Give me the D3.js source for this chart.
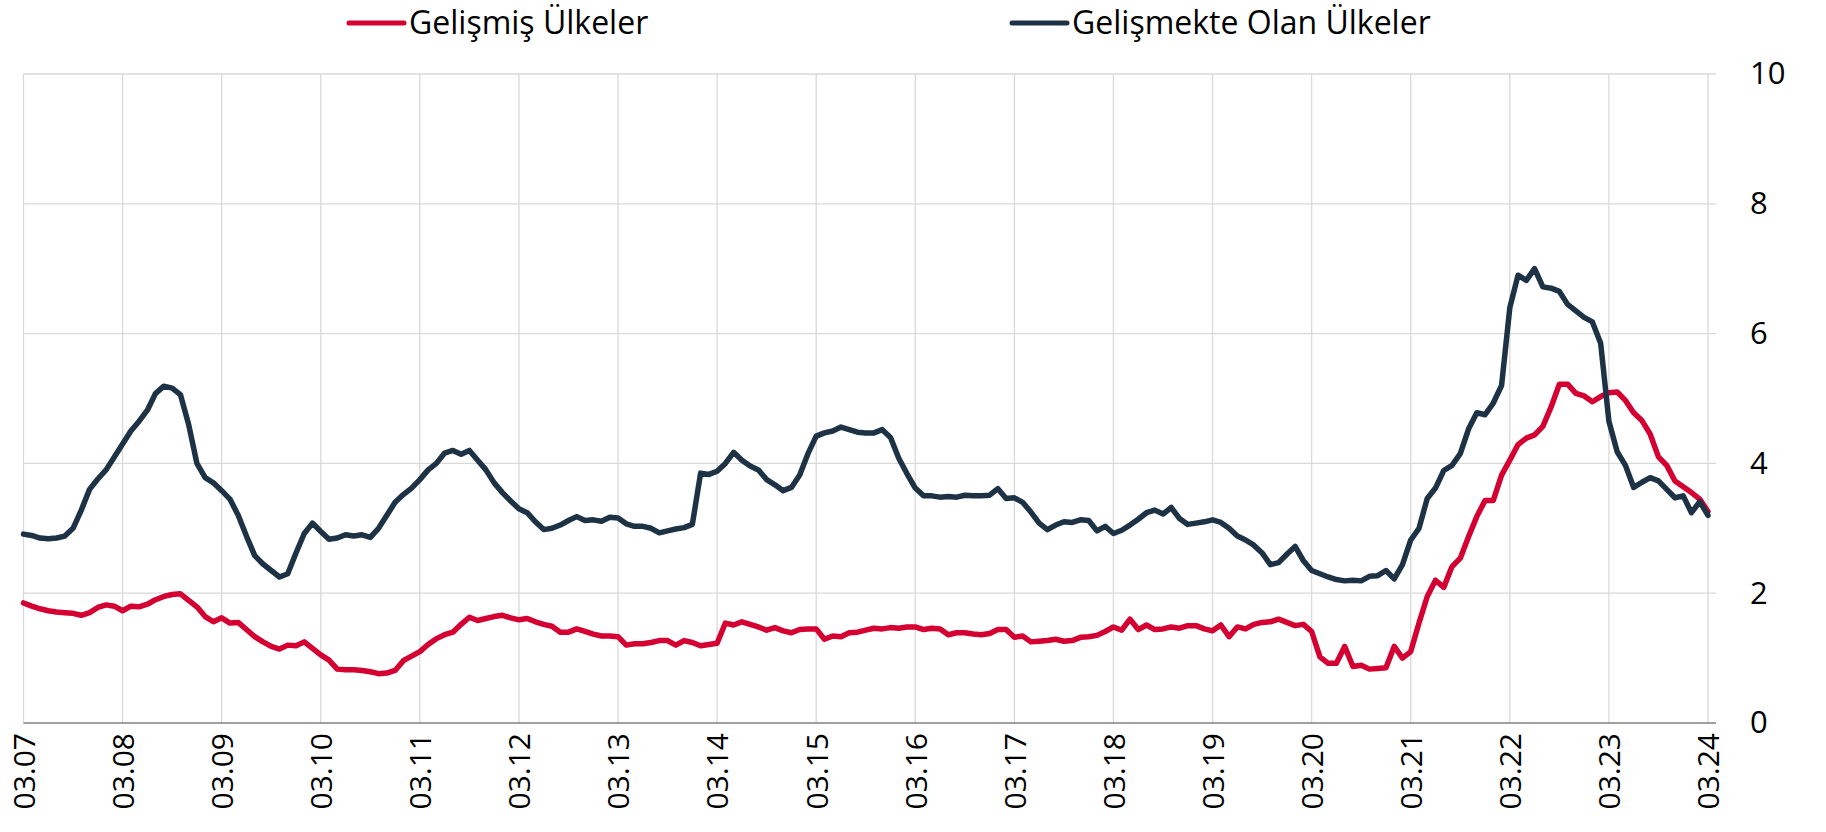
<!DOCTYPE html>
<html><head><meta charset="utf-8">
<script src="https://cdn.jsdelivr.net/npm/d3@7"></script>
<style>body{margin:0;background:#fff;} svg text{font-family:"Open Sans",sans-serif;fill:#000;}</style>
</head><body><svg id="c" width="1826" height="832"></svg>
<script>
const seriesNames = ["Gelişmiş Ülkeler", "Gelişmekte Olan Ülkeler"];
const seriesColors = ["#D50032", "#1E3246"];
const developed = [
1.85,1.80,1.76,1.73,1.71,1.70,1.69,1.66,1.70,1.78,1.82,1.80,
1.73,1.80,1.79,1.83,1.90,1.95,1.98,1.99,1.89,1.79,1.64,1.56,
1.62,1.54,1.55,1.44,1.33,1.25,1.18,1.14,1.20,1.19,1.25,1.15,
1.05,0.97,0.83,0.82,0.82,0.81,0.79,0.76,0.77,0.81,0.96,1.03,
1.10,1.21,1.30,1.36,1.40,1.52,1.63,1.58,1.61,1.64,1.66,1.62,
1.59,1.61,1.56,1.52,1.49,1.40,1.40,1.45,1.41,1.37,1.34,1.34,
1.33,1.20,1.22,1.22,1.24,1.27,1.27,1.20,1.27,1.24,1.19,1.21,
1.23,1.54,1.51,1.56,1.52,1.48,1.43,1.47,1.42,1.39,1.44,1.45,
1.45,1.29,1.34,1.33,1.39,1.40,1.43,1.46,1.45,1.47,1.46,1.48,
1.48,1.44,1.46,1.45,1.36,1.39,1.39,1.37,1.36,1.38,1.44,1.44,
1.32,1.34,1.25,1.26,1.27,1.29,1.26,1.27,1.32,1.33,1.35,1.41,
1.48,1.43,1.60,1.44,1.51,1.44,1.45,1.48,1.46,1.50,1.50,1.45,
1.42,1.51,1.33,1.48,1.45,1.52,1.55,1.56,1.60,1.55,1.50,1.52,
1.41,1.02,0.92,0.92,1.18,0.87,0.89,0.83,0.84,0.85,1.18,1.00,
1.10,1.54,1.95,2.20,2.09,2.41,2.54,2.87,3.18,3.43,3.43,3.82,
4.05,4.29,4.39,4.44,4.57,4.87,5.22,5.22,5.08,5.04,4.95,5.03,
5.09,5.10,4.97,4.78,4.66,4.45,4.10,3.97,3.73,3.64,3.55,3.45,
3.26
];
const developing = [
2.91,2.89,2.85,2.84,2.85,2.88,3.00,3.28,3.60,3.76,3.90,4.10,
4.30,4.50,4.65,4.82,5.08,5.19,5.16,5.06,4.60,4.00,3.78,3.70,
3.58,3.45,3.20,2.88,2.58,2.45,2.35,2.25,2.30,2.62,2.92,3.08,
2.95,2.83,2.85,2.90,2.88,2.90,2.86,3.00,3.20,3.40,3.52,3.62,
3.75,3.90,4.00,4.16,4.20,4.14,4.20,4.05,3.90,3.70,3.55,3.42,
3.30,3.24,3.10,2.98,3.00,3.05,3.12,3.18,3.12,3.13,3.11,3.17,
3.16,3.07,3.03,3.03,3.00,2.93,2.96,2.99,3.01,3.06,3.85,3.83,
3.88,4.00,4.17,4.05,3.96,3.90,3.75,3.67,3.58,3.63,3.82,4.15,
4.42,4.47,4.50,4.56,4.52,4.48,4.47,4.47,4.52,4.40,4.08,3.84,
3.62,3.50,3.50,3.48,3.49,3.48,3.51,3.50,3.50,3.51,3.61,3.46,
3.47,3.40,3.25,3.08,2.98,3.05,3.10,3.09,3.13,3.12,2.96,3.03,
2.92,2.97,3.05,3.14,3.24,3.28,3.22,3.32,3.15,3.06,3.08,3.10,
3.13,3.09,3.00,2.88,2.82,2.74,2.62,2.44,2.47,2.60,2.72,2.50,
2.35,2.30,2.25,2.21,2.19,2.20,2.19,2.26,2.27,2.35,2.22,2.44,
2.82,3.00,3.46,3.62,3.89,3.97,4.15,4.53,4.78,4.75,4.93,5.20,
6.40,6.90,6.82,7.00,6.72,6.70,6.65,6.45,6.35,6.25,6.18,5.85,
4.65,4.18,3.97,3.63,3.71,3.78,3.73,3.60,3.47,3.50,3.24,3.41,
3.20
];
const tickLabels = ["03.07","03.08","03.09","03.10","03.11","03.12","03.13","03.14","03.15",
  "03.16","03.17","03.18","03.19","03.20","03.21","03.22","03.23","03.24"];
const yTicks = [0, 2, 4, 6, 8, 10];

// monthly categories MM.YY starting March 2007
const categories = d3.range(developed.length).map(i => {
  const m = (2 + i) % 12 + 1, yr = 7 + Math.floor((2 + i) / 12);
  return String(m).padStart(2, "0") + "." + String(yr).padStart(2, "0");
});

const svg = d3.select("#c");
const x = d3.scalePoint().domain(categories).range([23.5, 1708]);
const y = d3.scaleLinear().domain([0, 10]).range([723, 74]);
const gridRight = 1716;

// horizontal gridlines
svg.append("g").selectAll("line").data(yTicks.filter(d => d > 0)).join("line")
  .attr("x1", 23.5).attr("x2", gridRight)
  .attr("y1", d => y(d)).attr("y2", d => y(d))
  .attr("stroke", "#d9d9d9").attr("stroke-width", 1.3);
// vertical gridlines
svg.append("g").selectAll("line").data(tickLabels).join("line")
  .attr("x1", d => x(d)).attr("x2", d => x(d))
  .attr("y1", y(10)).attr("y2", y(0))
  .attr("stroke", "#d9d9d9").attr("stroke-width", 1.3);
// baseline
svg.append("line").attr("x1", 23.5).attr("x2", gridRight)
  .attr("y1", y(0)).attr("y2", y(0)).attr("stroke", "#808080").attr("stroke-width", 1.5);

// right y axis labels
const ya = svg.append("g").attr("transform", "translate(1750,0)")
  .call(d3.axisRight(y).tickValues(yTicks).tickSize(0).tickPadding(0));
ya.select(".domain").remove();
ya.selectAll("text").attr("font-size", 31).attr("font-family", "'Open Sans', sans-serif").attr("fill", "#000");

// bottom x axis labels
const xa = svg.append("g").attr("transform", `translate(0,${y(0)})`)
  .call(d3.axisBottom(x).tickValues(tickLabels).tickSize(0));
xa.select(".domain").remove();
xa.selectAll("text").attr("font-size", 30).attr("font-family", "'Open Sans', sans-serif").attr("fill", "#000")
  .attr("transform", "rotate(-90)").attr("text-anchor", "end")
  .attr("x", -10).attr("y", 0).attr("dy", "0.36em");

// lines
const line = d3.line().x((d, i) => x(categories[i])).y(d => y(d));
[developed, developing].forEach((s, k) => {
  svg.append("path").datum(s).attr("d", line).attr("fill", "none")
    .attr("stroke", seriesColors[k]).attr("stroke-width", 5.5)
    .attr("stroke-linejoin", "round").attr("stroke-linecap", "round");
});

// legend
const legendX = [349, 1012];
seriesNames.forEach((n, k) => {
  const g = svg.append("g").attr("transform", `translate(${legendX[k]},0)`);
  g.append("line").attr("x1", 0).attr("x2", 55).attr("y1", 23).attr("y2", 23)
    .attr("stroke", seriesColors[k]).attr("stroke-width", 5).attr("stroke-linecap", "round");
  g.append("text").attr("x", 60).attr("y", 34).attr("font-size", 32).text(n);
});
</script></body></html>
